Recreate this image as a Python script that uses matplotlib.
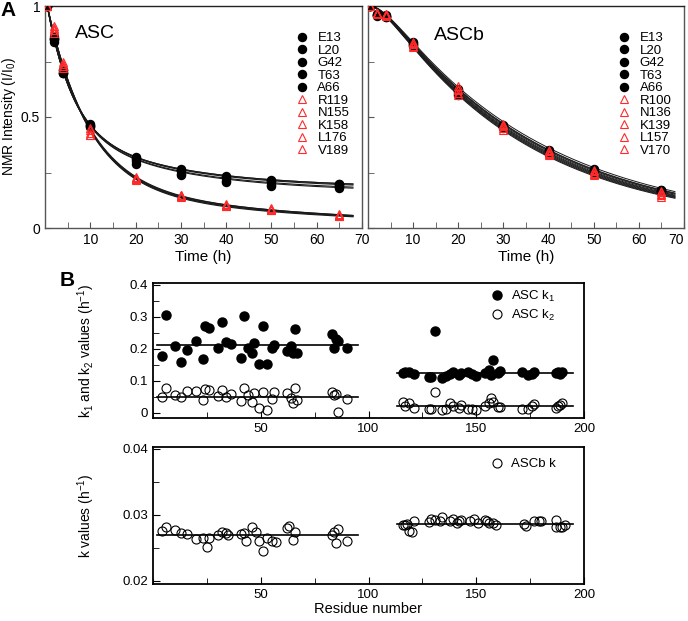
import numpy as np
import matplotlib
matplotlib.use("Agg")
import matplotlib.pyplot as plt
from matplotlib.ticker import MultipleLocator

plt.rcParams['font.family'] = ['Liberation Sans', 'DejaVu Sans']
plt.rcParams['mathtext.default'] = 'regular'

# ---------------- Panel A data ----------------
time_h = [0.5, 2, 4, 10, 20, 30, 40, 50, 65]

asc_black_labels = ['E13', 'L20', 'G42', 'T63', 'A66']
asc_black = [
    [1, 0.85, 0.70, 0.47, 0.32, 0.265, 0.235, 0.215, 0.20],
    [1, 0.84, 0.70, 0.46, 0.31, 0.255, 0.225, 0.21, 0.195],
    [1, 0.85, 0.71, 0.465, 0.315, 0.26, 0.23, 0.21, 0.20],
    [1, 0.86, 0.71, 0.46, 0.29, 0.24, 0.205, 0.19, 0.18],
    [1, 0.85, 0.70, 0.455, 0.30, 0.245, 0.21, 0.195, 0.185],
]
asc_red_labels = ['R119', 'N155', 'K158', 'L176', 'V189']
asc_red = [
    [1, 0.90, 0.74, 0.43, 0.225, 0.145, 0.105, 0.085, 0.06],
    [1, 0.89, 0.73, 0.42, 0.22, 0.15, 0.11, 0.09, 0.065],
    [1, 0.88, 0.72, 0.44, 0.22, 0.14, 0.10, 0.08, 0.055],
    [1, 0.91, 0.75, 0.45, 0.23, 0.15, 0.10, 0.085, 0.06],
    [1, 0.89, 0.73, 0.42, 0.215, 0.145, 0.105, 0.08, 0.055],
]
# fitted curve parameters (a, k1, b, k2, c)
asc_black_fit = [
    (0.55, 0.18, 0.27, 0.04, 0.18),
    (0.55, 0.18, 0.275, 0.04, 0.175),
    (0.55, 0.18, 0.27, 0.04, 0.18),
    (0.55, 0.18, 0.29, 0.04, 0.16),
    (0.55, 0.18, 0.285, 0.04, 0.165),
]
asc_red_fit = [
    (0.81, 0.11, 0.19, 0.019, 0.0),
    (0.80, 0.11, 0.20, 0.019, 0.0),
    (0.82, 0.11, 0.18, 0.018, 0.0),
    (0.81, 0.11, 0.19, 0.018, 0.0),
    (0.82, 0.11, 0.18, 0.019, 0.0),
]

ascb_black_labels = ['E13', 'L20', 'G42', 'T63', 'A66']
ascb_black = [
    [1, 0.96, 0.955, 0.83, 0.62, 0.46, 0.345, 0.26, 0.165],
    [1, 0.955, 0.95, 0.835, 0.61, 0.455, 0.34, 0.255, 0.17],
    [1, 0.96, 0.96, 0.84, 0.625, 0.465, 0.35, 0.265, 0.17],
    [1, 0.965, 0.955, 0.82, 0.60, 0.45, 0.335, 0.25, 0.16],
    [1, 0.96, 0.95, 0.825, 0.615, 0.46, 0.34, 0.255, 0.165],
]
ascb_red_labels = ['R100', 'N136', 'K139', 'L157', 'V170']
ascb_red = [
    [1, 0.97, 0.965, 0.84, 0.64, 0.47, 0.35, 0.26, 0.165],
    [1, 0.965, 0.96, 0.83, 0.60, 0.44, 0.33, 0.24, 0.15],
    [1, 0.97, 0.96, 0.82, 0.62, 0.46, 0.34, 0.25, 0.16],
    [1, 0.965, 0.955, 0.815, 0.61, 0.45, 0.335, 0.245, 0.14],
    [1, 0.97, 0.965, 0.835, 0.625, 0.465, 0.345, 0.255, 0.155],
]
# ASCb fit parameters (amplitude, k, fast lag rate)
ascb_fit = [(1.10, 0.0282, 0.3), (1.10, 0.0288, 0.3), (1.10, 0.0293, 0.3),
            (1.10, 0.0297, 0.3), (1.10, 0.0300, 0.3), (1.10, 0.0303, 0.3),
            (1.10, 0.0306, 0.3), (1.10, 0.0309, 0.3), (1.10, 0.0312, 0.3),
            (1.10, 0.0290, 0.3)]

# ---------------- Panel B data ----------------
asc_res = [4, 6, 10, 13, 16, 20, 23, 24, 26, 30, 32, 34, 36, 41, 42, 44, 46, 47,
           49, 51, 53, 55, 56, 62, 64, 65, 66, 67, 83, 84, 85, 86, 90,
           116, 117, 119, 121, 128, 129, 131, 134, 136, 138, 139, 142, 143, 146,
           148, 150, 154, 156, 157, 158, 160, 161, 171, 174, 176, 177, 187, 188,
           189, 190]
asc_k1 = [0.178, 0.306, 0.209, 0.160, 0.195, 0.223, 0.168, 0.272, 0.265, 0.202,
          0.282, 0.220, 0.215, 0.171, 0.301, 0.202, 0.186, 0.218, 0.152, 0.272,
          0.153, 0.202, 0.212, 0.192, 0.207, 0.188, 0.261, 0.188, 0.246, 0.202,
          0.230, 0.223, 0.202,
          0.124, 0.126, 0.128, 0.122, 0.113, 0.112, 0.256, 0.108, 0.115, 0.122,
          0.129, 0.118, 0.124, 0.129, 0.122, 0.114, 0.124, 0.134, 0.119, 0.166,
          0.124, 0.132, 0.126, 0.119, 0.120, 0.126, 0.124, 0.126, 0.122, 0.129]
asc_k2 = [0.049, 0.077, 0.056, 0.049, 0.069, 0.067, 0.041, 0.074, 0.071, 0.053,
          0.070, 0.049, 0.059, 0.038, 0.077, 0.056, 0.035, 0.062, 0.015, 0.064,
          0.009, 0.043, 0.064, 0.061, 0.046, 0.030, 0.077, 0.041, 0.064, 0.056,
          0.058, 0.002, 0.043,
          0.035, 0.020, 0.030, 0.015, 0.012, 0.012, 0.065, 0.008, 0.012, 0.032,
          0.022, 0.015, 0.025, 0.012, 0.012, 0.010, 0.020, 0.032, 0.046, 0.035,
          0.018, 0.018, 0.012, 0.012, 0.022, 0.028, 0.015, 0.020, 0.025, 0.030]
asc_k1_means = [0.213, 0.123]
asc_k2_means = [0.051, 0.020]
segments = [(2, 95), (113, 195)]

ascb_res = [4, 6, 10, 13, 16, 20, 23, 25, 26, 30, 32, 34, 35, 41, 42, 43, 46, 48,
            49, 51, 53, 55, 57, 62, 63, 65, 66, 83, 84, 86, 85, 90,
            116, 117, 118, 119, 120, 121, 128, 129, 131, 133, 134, 138, 139, 141,
            142, 143, 147, 149, 151, 154, 155, 156, 158, 159, 172, 173, 177, 179,
            180, 187, 187, 189, 190, 191]
ascb_k = [0.02758, 0.02808, 0.02773, 0.02722, 0.02707, 0.02636, 0.02646, 0.02505,
          0.02646, 0.02687, 0.02747, 0.02722, 0.02687, 0.02707, 0.02722, 0.02606,
          0.02808, 0.02737, 0.02596, 0.02444, 0.02646, 0.02596, 0.02586, 0.02798,
          0.02823, 0.02621, 0.02737, 0.02697, 0.02737, 0.02788, 0.02571, 0.02606,
          0.02848, 0.0284, 0.0286, 0.0275, 0.0274, 0.0290, 0.0289, 0.0293, 0.0292,
          0.0291, 0.0296, 0.0290, 0.0293, 0.0288, 0.0290, 0.0292, 0.0290, 0.0293,
          0.0287, 0.0292, 0.0290, 0.0288, 0.0288, 0.0284, 0.0286, 0.0283, 0.0291,
          0.0290, 0.0290, 0.0292, 0.0282, 0.0281, 0.0282, 0.0285]
ascb_k_means = [0.0269, 0.0286]

# ---------------- figure ----------------
W, H = 688, 621
fig = plt.figure(figsize=(W / 100, H / 100), dpi=100)

def px_axes(l, t, r, b):
    return fig.add_axes([l / W, 1 - b / H, (r - l) / W, (b - t) / H])

axA1 = px_axes(45, 6, 362, 228)
axA2 = px_axes(368, 6, 684, 228)
axB1 = px_axes(153, 283, 584, 418)
axB2 = px_axes(153, 447, 584, 584)

tt = np.linspace(0.5, 68, 300)
line_col = '#1a1a1a'

def style_top(ax):
    ax.set_xlim(0, 70)
    ax.set_ylim(0, 1)
    ax.xaxis.set_major_locator(MultipleLocator(10))
    ax.xaxis.set_minor_locator(MultipleLocator(5))
    ax.yaxis.set_major_locator(MultipleLocator(0.5))
    ax.yaxis.set_minor_locator(MultipleLocator(0.25))
    ax.tick_params(which='both', direction='in', labelsize=10, color='#555')
    ax.tick_params(which='major', length=4)
    ax.tick_params(which='minor', length=4)
    for s in ax.spines.values():
        s.set_color('#555')
        s.set_linewidth(1.0)
    ax.spines['top'].set_color('#222')
    ax.set_xticks([10, 20, 30, 40, 50, 60, 70])
    ax.set_xlabel('Time (h)', fontsize=11, labelpad=2)

legend_kw = dict(loc='upper left', frameon=False, fontsize=9.5, handlelength=0.8,
                 handletextpad=0.75, labelspacing=0.02, borderpad=0,
                 borderaxespad=0)

# ASC panel
for (a, k1, b, k2, c) in asc_black_fit + asc_red_fit:
    yy = a * np.exp(-k1 * (tt - 0.5)) + b * np.exp(-k2 * (tt - 0.5)) + c
    axA1.plot(tt, yy, color=line_col, lw=0.8, zorder=1)
for lab, vals in zip(asc_black_labels, asc_black):
    axA1.plot(time_h, vals, 'o', color='black', ms=5.8, label=lab, zorder=3)
for lab, vals in zip(asc_red_labels, asc_red):
    axA1.plot(time_h, vals, '^', mfc='none', mec='#ff2a2a', mew=0.8, ms=5.5,
              label=lab, zorder=4)
style_top(axA1)
axA1.set_yticks([0, 0.5, 1])
axA1.set_yticklabels(['0', '0.5', '1'])
axA1.set_ylabel('NMR Intensity (I/I$_0$)', fontsize=10)
axA1.yaxis.set_label_coords(-0.085, 0.5)
axA1.text(0.093, 0.875, 'ASC', transform=axA1.transAxes, fontsize=14, va='center')
axA1.legend(bbox_to_anchor=(0.795, 0.882), **legend_kw)

# ASCb panel
for (A, k, kf) in ascb_fit:
    yy = A * np.exp(-k * (tt - 0.5)) - (A - 1) * np.exp(-kf * (tt - 0.5))
    axA2.plot(tt, yy, color=line_col, lw=0.7, zorder=1)
for lab, vals in zip(ascb_black_labels, ascb_black):
    axA2.plot(time_h, vals, 'o', color='black', ms=5.8, label=lab, zorder=3)
for lab, vals in zip(ascb_red_labels, ascb_red):
    axA2.plot(time_h, vals, '^', mfc='none', mec='#ff2a2a', mew=0.8, ms=5.5,
              label=lab, zorder=4)
style_top(axA2)
axA2.set_yticklabels([])
for lbl in axA2.get_xticklabels():
    if lbl.get_text() == '70':
        lbl.set_horizontalalignment('right')
axA2.text(0.21, 0.865, 'ASCb', transform=axA2.transAxes, fontsize=14, va='center')
axA2.legend(bbox_to_anchor=(0.795, 0.882), **legend_kw)

# Panel B
def style_b(ax):
    ax.set_xlim(0, 200)
    ax.xaxis.set_major_locator(MultipleLocator(50))
    ax.xaxis.set_minor_locator(MultipleLocator(25))
    ax.tick_params(which='both', direction='in', labelsize=9.5)
    ax.tick_params(which='major', length=5)
    ax.tick_params(which='minor', length=4)
    for s in ax.spines.values():
        s.set_linewidth(1.3)
    ax.set_xticks([50, 100, 150, 200])

for (x0, x1), m in zip(segments, asc_k1_means):
    axB1.plot([x0, x1], [m, m], color='black', lw=1.2, zorder=1)
for (x0, x1), m in zip(segments, asc_k2_means):
    axB1.plot([x0, x1], [m, m], color='black', lw=1.2, zorder=1)
axB1.plot(asc_res, asc_k1, 'o', color='black', ms=6.5, label='ASC k$_1$', zorder=3)
axB1.plot(asc_res, asc_k2, 'o', mfc='none', mec='black', mew=0.8, ms=6.5,
          label='ASC k$_2$', zorder=3)
style_b(axB1)
axB1.set_ylim(-0.016, 0.405)
axB1.yaxis.set_major_locator(MultipleLocator(0.1))
axB1.yaxis.set_minor_locator(MultipleLocator(0.05))
axB1.set_yticks([0, 0.1, 0.2, 0.3, 0.4])
axB1.set_yticklabels(['0', '0.1', '0.2', '0.3', '0.4'])
axB1.set_ylabel('k$_1$ and k$_2$ values (h$^{-1}$)', fontsize=10)
axB1.yaxis.set_label_coords(-0.13, 0.5)
axB1.legend(loc='upper left', bbox_to_anchor=(0.785, 0.955), frameon=False,
            fontsize=9.5, handlelength=0.8, handletextpad=0.7, labelspacing=0.25,
            borderpad=0, borderaxespad=0)

for (x0, x1), m in zip(segments, ascb_k_means):
    axB2.plot([x0, x1], [m, m], color='black', lw=1.2, zorder=1)
axB2.plot(ascb_res, ascb_k, 'o', mfc='none', mec='black', mew=0.8, ms=6.5,
          label='ASCb k', zorder=3)
style_b(axB2)
axB2.set_ylim(0.0195, 0.0403)
axB2.yaxis.set_major_locator(MultipleLocator(0.01))
axB2.yaxis.set_minor_locator(MultipleLocator(0.005))
axB2.set_yticks([0.02, 0.03, 0.04])
axB2.set_yticklabels(['0.02', '0.03', '0.04'])
axB2.set_ylabel('k values (h$^{-1}$)', fontsize=10)
axB2.yaxis.set_label_coords(-0.13, 0.5)
axB2.set_xlabel('Residue number', fontsize=10.5, labelpad=1)
axB2.legend(loc='upper left', bbox_to_anchor=(0.785, 0.92), frameon=False,
            fontsize=9.5, handlelength=0.8, handletextpad=0.7,
            borderpad=0, borderaxespad=0)

fig.text(0.0, 1 - 1 / H, 'A', fontsize=15, fontweight='bold', va='top', ha='left')
fig.text(60 / W, 1 - 271 / H, 'B', fontsize=15, fontweight='bold', va='top', ha='left')

fig.savefig('out.png', dpi=100)
